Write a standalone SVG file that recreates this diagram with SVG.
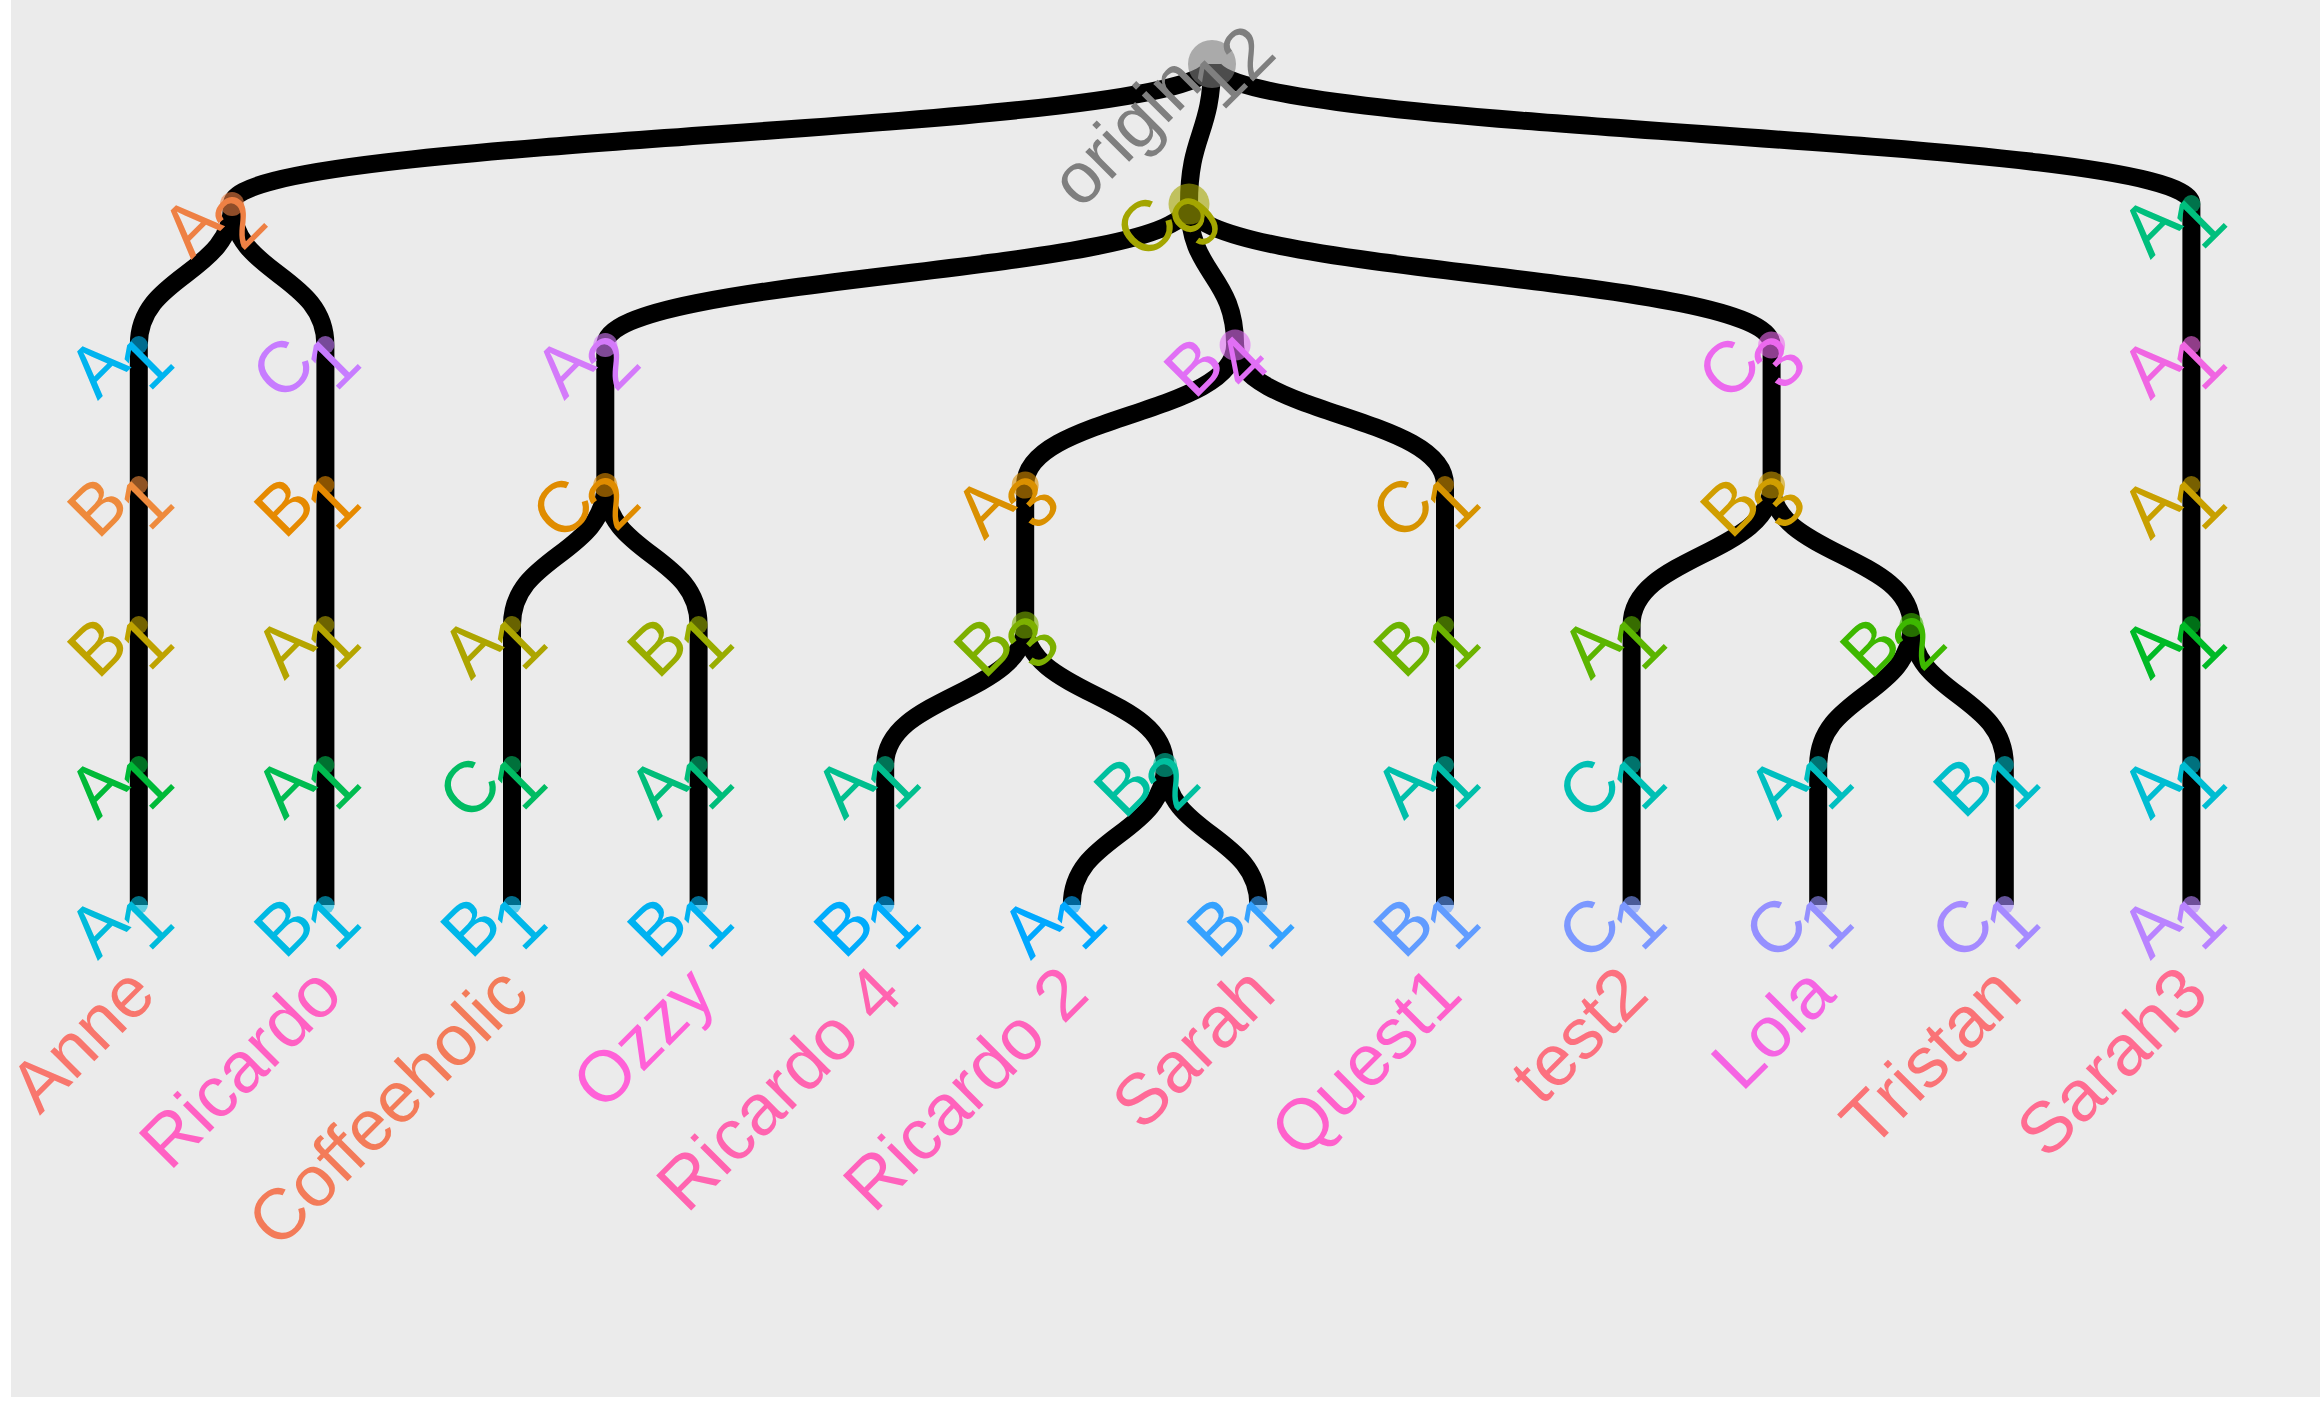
<svg xmlns="http://www.w3.org/2000/svg" width="2320" height="1408" viewBox="0 0 2320 1408">
<style>
.edge{fill:none;stroke:#000;stroke-width:18}
.dot{fill-opacity:0.6}
text{font-family:"Liberation Sans",Arial,Helvetica,sans-serif;font-size:72px}
.l{text-anchor:end}
.nm{text-anchor:end}
</style>
<rect x="0" y="0" width="2320" height="1408" fill="#ffffff"/>
<rect x="11" y="0" width="2309" height="1397" fill="#EBEBEB"/>
<g id="connectors">
<path class="edge" d="M1212,64 C1212,134 232.1,134 232.1,204"/>
<path class="edge" d="M1212,64 C1212,134 1189,134 1189,204"/>
<path class="edge" d="M1212,64 C1212,134 2191.4,134 2191.4,204"/>
<path class="edge" d="M232.1,204 C232.1,274.5 138.8,274.5 138.8,345"/>
<path class="edge" d="M232.1,204 C232.1,274.5 325.4,274.5 325.4,345"/>
<path class="edge" d="M138.8,345 V905"/>
<path class="edge" d="M325.4,345 V905"/>
<path class="edge" d="M1189,204 C1189,274.5 605.3,274.5 605.3,345"/>
<path class="edge" d="M1189,204 C1189,274.5 1235.1,274.5 1235.1,345"/>
<path class="edge" d="M1189,204 C1189,274.5 1771.6,274.5 1771.6,345"/>
<path class="edge" d="M605.3,345 V485"/>
<path class="edge" d="M605.3,485 C605.3,555 512,555 512,625"/>
<path class="edge" d="M605.3,485 C605.3,555 698.6,555 698.6,625"/>
<path class="edge" d="M512,625 V905"/>
<path class="edge" d="M698.6,625 V905"/>
<path class="edge" d="M1235.1,345 C1235.1,415 1025.2,415 1025.2,485"/>
<path class="edge" d="M1235.1,345 C1235.1,415 1445,415 1445,485"/>
<path class="edge" d="M1025.2,485 V625"/>
<path class="edge" d="M1025.2,625 C1025.2,695 885.2,695 885.2,765"/>
<path class="edge" d="M1025.2,625 C1025.2,695 1165.1,695 1165.1,765"/>
<path class="edge" d="M885.2,765 V905"/>
<path class="edge" d="M1165.1,765 C1165.1,835 1071.8,835 1071.8,905"/>
<path class="edge" d="M1165.1,765 C1165.1,835 1258.4,835 1258.4,905"/>
<path class="edge" d="M1445,485 V905"/>
<path class="edge" d="M1771.6,345 V485"/>
<path class="edge" d="M1771.6,485 C1771.6,555 1631.6,555 1631.6,625"/>
<path class="edge" d="M1771.6,485 C1771.6,555 1911.5,555 1911.5,625"/>
<path class="edge" d="M1631.6,625 V905"/>
<path class="edge" d="M1911.5,625 C1911.5,695 1818.2,695 1818.2,765"/>
<path class="edge" d="M1911.5,625 C1911.5,695 2004.8,695 2004.8,765"/>
<path class="edge" d="M1818.2,765 V905"/>
<path class="edge" d="M2004.8,765 V905"/>
<path class="edge" d="M2191.4,204 V905"/>
</g>
<g id="node-origin" transform="translate(1212,64)" fill="#7F7F7F"><circle class="dot" r="24"/><g transform="rotate(-45)"><text class="l" x="-20.5" y="10.6">origin</text><text x="-27" y="41.5">12</text></g></g>
<g id="node-A2-a" transform="translate(232.1,204)" fill="#EE8044"><circle class="dot" r="12"/><g transform="rotate(-45)"><text class="l" x="-20.5" y="10.6">A</text><text x="-27" y="41.5">2</text></g></g>
<g id="node-C9" transform="translate(1189,204)" fill="#A3A500"><circle class="dot" r="20.5"/><g transform="rotate(-45)"><text class="l" x="-20.5" y="10.6">C</text><text x="-27" y="41.5">9</text></g></g>
<g id="node-A1-r1" transform="translate(2191.4,204)" fill="#00BF7D"><circle class="dot" r="9"/><g transform="rotate(-45)"><text class="l" x="-20.5" y="10.6">A</text><text x="-27" y="41.5">1</text></g></g>
<g id="node-A1-a2" transform="translate(138.8,345)" fill="#00B4EF"><circle class="dot" r="9"/><g transform="rotate(-45)"><text class="l" x="-20.5" y="10.6">A</text><text x="-27" y="41.5">1</text></g></g>
<g id="node-C1-b2" transform="translate(325.4,345)" fill="#C77CFF"><circle class="dot" r="9"/><g transform="rotate(-45)"><text class="l" x="-20.5" y="10.6">C</text><text x="-27" y="41.5">1</text></g></g>
<g id="node-A2-c2" transform="translate(605.3,345)" fill="#D47AFA"><circle class="dot" r="12"/><g transform="rotate(-45)"><text class="l" x="-20.5" y="10.6">A</text><text x="-27" y="41.5">2</text></g></g>
<g id="node-B4" transform="translate(1235.1,345)" fill="#E16FF5"><circle class="dot" r="15.5"/><g transform="rotate(-45)"><text class="l" x="-20.5" y="10.6">B</text><text x="-27" y="41.5">4</text></g></g>
<g id="node-C3" transform="translate(1771.6,345)" fill="#EC69EE"><circle class="dot" r="13.5"/><g transform="rotate(-45)"><text class="l" x="-20.5" y="10.6">C</text><text x="-27" y="41.5">3</text></g></g>
<g id="node-A1-r2" transform="translate(2191.4,345)" fill="#F066E2"><circle class="dot" r="9"/><g transform="rotate(-45)"><text class="l" x="-20.5" y="10.6">A</text><text x="-27" y="41.5">1</text></g></g>
<g id="node-B1-a3" transform="translate(138.8,485)" fill="#EE8A3C"><circle class="dot" r="9"/><g transform="rotate(-45)"><text class="l" x="-20.5" y="10.6">B</text><text x="-27" y="41.5">1</text></g></g>
<g id="node-B1-b3" transform="translate(325.4,485)" fill="#E68A00"><circle class="dot" r="9"/><g transform="rotate(-45)"><text class="l" x="-20.5" y="10.6">B</text><text x="-27" y="41.5">1</text></g></g>
<g id="node-C2" transform="translate(605.3,485)" fill="#E08C00"><circle class="dot" r="12"/><g transform="rotate(-45)"><text class="l" x="-20.5" y="10.6">C</text><text x="-27" y="41.5">2</text></g></g>
<g id="node-A3" transform="translate(1025.2,485)" fill="#DA9000"><circle class="dot" r="13.5"/><g transform="rotate(-45)"><text class="l" x="-20.5" y="10.6">A</text><text x="-27" y="41.5">3</text></g></g>
<g id="node-C1-e3" transform="translate(1445,485)" fill="#D69300"><circle class="dot" r="9"/><g transform="rotate(-45)"><text class="l" x="-20.5" y="10.6">C</text><text x="-27" y="41.5">1</text></g></g>
<g id="node-B3-f3" transform="translate(1771.6,485)" fill="#D09E00"><circle class="dot" r="13.5"/><g transform="rotate(-45)"><text class="l" x="-20.5" y="10.6">B</text><text x="-27" y="41.5">3</text></g></g>
<g id="node-A1-r3" transform="translate(2191.4,485)" fill="#C8A000"><circle class="dot" r="9"/><g transform="rotate(-45)"><text class="l" x="-20.5" y="10.6">A</text><text x="-27" y="41.5">1</text></g></g>
<g id="node-B1-a4" transform="translate(138.8,625)" fill="#BFA300"><circle class="dot" r="9"/><g transform="rotate(-45)"><text class="l" x="-20.5" y="10.6">B</text><text x="-27" y="41.5">1</text></g></g>
<g id="node-A1-b4" transform="translate(325.4,625)" fill="#B5A500"><circle class="dot" r="9"/><g transform="rotate(-45)"><text class="l" x="-20.5" y="10.6">A</text><text x="-27" y="41.5">1</text></g></g>
<g id="node-A1-c4" transform="translate(512,625)" fill="#ADA500"><circle class="dot" r="9"/><g transform="rotate(-45)"><text class="l" x="-20.5" y="10.6">A</text><text x="-27" y="41.5">1</text></g></g>
<g id="node-B1-d4" transform="translate(698.6,625)" fill="#99AD00"><circle class="dot" r="9"/><g transform="rotate(-45)"><text class="l" x="-20.5" y="10.6">B</text><text x="-27" y="41.5">1</text></g></g>
<g id="node-B3-e4" transform="translate(1025.2,625)" fill="#7DB000"><circle class="dot" r="13.5"/><g transform="rotate(-45)"><text class="l" x="-20.5" y="10.6">B</text><text x="-27" y="41.5">3</text></g></g>
<g id="node-B1-f4" transform="translate(1445,625)" fill="#6CB300"><circle class="dot" r="9"/><g transform="rotate(-45)"><text class="l" x="-20.5" y="10.6">B</text><text x="-27" y="41.5">1</text></g></g>
<g id="node-A1-g4" transform="translate(1631.6,625)" fill="#5BB500"><circle class="dot" r="9"/><g transform="rotate(-45)"><text class="l" x="-20.5" y="10.6">A</text><text x="-27" y="41.5">1</text></g></g>
<g id="node-B2-h4" transform="translate(1911.5,625)" fill="#3DB800"><circle class="dot" r="12"/><g transform="rotate(-45)"><text class="l" x="-20.5" y="10.6">B</text><text x="-27" y="41.5">2</text></g></g>
<g id="node-A1-r4" transform="translate(2191.4,625)" fill="#00BA26"><circle class="dot" r="9"/><g transform="rotate(-45)"><text class="l" x="-20.5" y="10.6">A</text><text x="-27" y="41.5">1</text></g></g>
<g id="node-A1-a5" transform="translate(138.8,765)" fill="#00BA38"><circle class="dot" r="9"/><g transform="rotate(-45)"><text class="l" x="-20.5" y="10.6">A</text><text x="-27" y="41.5">1</text></g></g>
<g id="node-A1-b5" transform="translate(325.4,765)" fill="#00BC50"><circle class="dot" r="9"/><g transform="rotate(-45)"><text class="l" x="-20.5" y="10.6">A</text><text x="-27" y="41.5">1</text></g></g>
<g id="node-C1-c5" transform="translate(512,765)" fill="#00BC62"><circle class="dot" r="9"/><g transform="rotate(-45)"><text class="l" x="-20.5" y="10.6">C</text><text x="-27" y="41.5">1</text></g></g>
<g id="node-A1-d5" transform="translate(698.6,765)" fill="#00BD7A"><circle class="dot" r="9"/><g transform="rotate(-45)"><text class="l" x="-20.5" y="10.6">A</text><text x="-27" y="41.5">1</text></g></g>
<g id="node-A1-e5" transform="translate(885.2,765)" fill="#00BF8E"><circle class="dot" r="9"/><g transform="rotate(-45)"><text class="l" x="-20.5" y="10.6">A</text><text x="-27" y="41.5">1</text></g></g>
<g id="node-B2-f5" transform="translate(1165.1,765)" fill="#00C09F"><circle class="dot" r="12"/><g transform="rotate(-45)"><text class="l" x="-20.5" y="10.6">B</text><text x="-27" y="41.5">2</text></g></g>
<g id="node-A1-g5" transform="translate(1445,765)" fill="#00BFAA"><circle class="dot" r="9"/><g transform="rotate(-45)"><text class="l" x="-20.5" y="10.6">A</text><text x="-27" y="41.5">1</text></g></g>
<g id="node-C1-h5" transform="translate(1631.6,765)" fill="#00C0B4"><circle class="dot" r="9"/><g transform="rotate(-45)"><text class="l" x="-20.5" y="10.6">C</text><text x="-27" y="41.5">1</text></g></g>
<g id="node-A1-i5" transform="translate(1818.2,765)" fill="#00BFC0"><circle class="dot" r="9"/><g transform="rotate(-45)"><text class="l" x="-20.5" y="10.6">A</text><text x="-27" y="41.5">1</text></g></g>
<g id="node-B1-j5" transform="translate(2004.8,765)" fill="#00BECA"><circle class="dot" r="9"/><g transform="rotate(-45)"><text class="l" x="-20.5" y="10.6">B</text><text x="-27" y="41.5">1</text></g></g>
<g id="node-A1-r5" transform="translate(2191.4,765)" fill="#00BDD2"><circle class="dot" r="9"/><g transform="rotate(-45)"><text class="l" x="-20.5" y="10.6">A</text><text x="-27" y="41.5">1</text></g></g>
<g id="node-A1-a6" transform="translate(138.8,905)" fill="#00BBDB"><circle class="dot" r="9"/><g transform="rotate(-45)"><text class="l" x="-20.5" y="10.6">A</text><text x="-27" y="41.5">1</text></g></g>
<g id="node-B1-b6" transform="translate(325.4,905)" fill="#00B9E3"><circle class="dot" r="9"/><g transform="rotate(-45)"><text class="l" x="-20.5" y="10.6">B</text><text x="-27" y="41.5">1</text></g></g>
<g id="node-B1-c6" transform="translate(512,905)" fill="#00B7E9"><circle class="dot" r="9"/><g transform="rotate(-45)"><text class="l" x="-20.5" y="10.6">B</text><text x="-27" y="41.5">1</text></g></g>
<g id="node-B1-d6" transform="translate(698.6,905)" fill="#00B2F1"><circle class="dot" r="9"/><g transform="rotate(-45)"><text class="l" x="-20.5" y="10.6">B</text><text x="-27" y="41.5">1</text></g></g>
<g id="node-B1-e6" transform="translate(885.2,905)" fill="#00ACFC"><circle class="dot" r="9"/><g transform="rotate(-45)"><text class="l" x="-20.5" y="10.6">B</text><text x="-27" y="41.5">1</text></g></g>
<g id="node-A1-f6" transform="translate(1071.8,905)" fill="#00A8FF"><circle class="dot" r="9"/><g transform="rotate(-45)"><text class="l" x="-20.5" y="10.6">A</text><text x="-27" y="41.5">1</text></g></g>
<g id="node-B1-g6" transform="translate(1258.4,905)" fill="#35A2FF"><circle class="dot" r="9"/><g transform="rotate(-45)"><text class="l" x="-20.5" y="10.6">B</text><text x="-27" y="41.5">1</text></g></g>
<g id="node-B1-h6" transform="translate(1445,905)" fill="#619CFF"><circle class="dot" r="9"/><g transform="rotate(-45)"><text class="l" x="-20.5" y="10.6">B</text><text x="-27" y="41.5">1</text></g></g>
<g id="node-C1-i6" transform="translate(1631.6,905)" fill="#7C98FF"><circle class="dot" r="9"/><g transform="rotate(-45)"><text class="l" x="-20.5" y="10.6">C</text><text x="-27" y="41.5">1</text></g></g>
<g id="node-C1-j6" transform="translate(1818.2,905)" fill="#9590FF"><circle class="dot" r="9"/><g transform="rotate(-45)"><text class="l" x="-20.5" y="10.6">C</text><text x="-27" y="41.5">1</text></g></g>
<g id="node-C1-k6" transform="translate(2004.8,905)" fill="#A58AFF"><circle class="dot" r="9"/><g transform="rotate(-45)"><text class="l" x="-20.5" y="10.6">C</text><text x="-27" y="41.5">1</text></g></g>
<g id="node-A1-r6" transform="translate(2191.4,905)" fill="#B983FF"><circle class="dot" r="9"/><g transform="rotate(-45)"><text class="l" x="-20.5" y="10.6">A</text><text x="-27" y="41.5">1</text></g></g>
<g id="names">
<text id="name-anne" class="nm" fill="#F8766D" transform="translate(138.8,905) rotate(-45)" x="-51" y="79">Anne</text>
<text id="name-ricardo" class="nm" fill="#FF61C3" transform="translate(325.4,905) rotate(-45)" x="-51" y="79">Ricardo</text>
<text id="name-coffeeholic" class="nm" fill="#F37B59" transform="translate(512,905) rotate(-45)" x="-51" y="79">Coffeeholic</text>
<text id="name-ozzy" class="nm" fill="#FF61D8" transform="translate(698.6,905) rotate(-45)" x="-51" y="79">Ozzy</text>
<text id="name-ricardo4" class="nm" fill="#FF64B0" transform="translate(885.2,905) rotate(-45)" x="-51" y="79">Ricardo 4</text>
<text id="name-ricardo2" class="nm" fill="#FF62BC" transform="translate(1071.8,905) rotate(-45)" x="-51" y="79">Ricardo 2</text>
<text id="name-sarah" class="nm" fill="#FF6A98" transform="translate(1258.4,905) rotate(-45)" x="-51" y="79">Sarah</text>
<text id="name-quest1" class="nm" fill="#FF61CC" transform="translate(1445,905) rotate(-45)" x="-51" y="79">Quest1</text>
<text id="name-test2" class="nm" fill="#FC717F" transform="translate(1631.6,905) rotate(-45)" x="-51" y="79">test2</text>
<text id="name-lola" class="nm" fill="#F564E3" transform="translate(1818.2,905) rotate(-45)" x="-51" y="79">Lola</text>
<text id="name-tristan" class="nm" fill="#FA7376" transform="translate(2004.8,905) rotate(-45)" x="-51" y="79">Tristan</text>
<text id="name-sarah3" class="nm" fill="#FF6C91" transform="translate(2191.4,905) rotate(-45)" x="-51" y="79">Sarah3</text>
</g>
</svg>
